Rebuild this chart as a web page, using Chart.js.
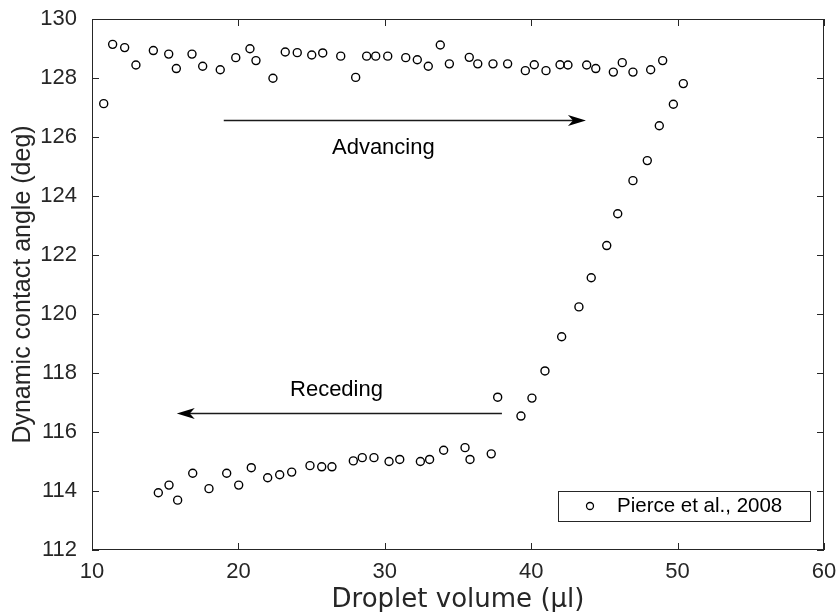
<!DOCTYPE html>
<html>
<head>
<meta charset="utf-8">
<script src="https://cdn.jsdelivr.net/npm/chart.js@4.4.1/dist/chart.umd.min.js"></script>
<style>
  html, body { margin: 0; padding: 0; background: #fff; }
</style>
</head>
<body>
<canvas id="angle-chart" width="837" height="612"></canvas>
<script>
// Droplet volume (ul) - advancing branch, the rise, then the receding branch
var volume = [10.80, 11.41, 12.23, 13.00, 14.19, 15.24, 15.76, 16.83, 17.56, 18.76,
              19.82, 20.79, 21.20, 22.36, 23.20, 24.02, 25.01, 25.76, 26.99, 28.01,
              28.76, 29.38, 30.20, 31.43, 32.22, 32.97, 33.79, 34.41, 35.77, 36.35,
              37.39, 38.39, 39.60, 40.21, 41.01, 41.97, 42.51, 43.79, 44.41, 45.61,
              46.22, 46.95, 48.16, 48.98, 50.39,
              49.71, 48.75, 47.93, 46.95, 45.91, 45.16, 44.10, 43.26, 42.08, 40.94,
              40.05, 39.30, 37.71,
              37.27, 35.82, 35.48, 34.02, 33.06, 32.43, 31.02, 30.29, 29.26, 28.46,
              27.85, 26.39, 25.69, 24.89, 23.64, 22.82, 22.00, 20.88, 20.02, 19.20,
              17.99, 16.88, 15.85, 15.26, 14.53];

// Dynamic contact angle (deg), same order
var angle = [127.13, 129.14, 129.03, 128.44, 128.93, 128.81, 128.32, 128.81, 128.40, 128.28,
             128.69, 128.99, 128.59, 127.99, 128.88, 128.86, 128.78, 128.85, 128.74, 128.02,
             128.74, 128.74, 128.74, 128.69, 128.62, 128.40, 129.12, 128.48, 128.70, 128.48,
             128.48, 128.48, 128.25, 128.45, 128.25, 128.45, 128.44, 128.44, 128.32, 128.20,
             128.52, 128.20, 128.28, 128.59, 127.81,
             127.11, 126.38, 125.20, 124.52, 123.40, 122.32, 121.23, 120.24, 119.23, 118.07,
             117.15, 116.54, 117.18,
             115.26, 115.07, 115.47, 115.38, 115.07, 115.00, 115.07, 115.00, 115.13, 115.13,
             115.02, 114.82, 114.82, 114.86, 114.64, 114.55, 114.45, 114.79, 114.20, 114.60,
             114.08, 114.60, 113.69, 114.20, 113.94];

var xTicks = [10, 20, 30, 40, 50, 60];
var yTicks = [112, 114, 116, 118, 120, 122, 124, 126, 128, 130];

// arrows and their captions, in data units
var arrowFromX = [19.0, 38.0];
var arrowToX = [43.74, 15.79];
var arrowY = [126.58, 116.64];
var noteText = ['Advancing', 'Receding'];
var noteX = [29.9, 26.7];
var noteY = [125.63, 117.42];

var ink = '#262626';

var points = volume.map(function (v, i) { return { x: v, y: angle[i] }; });

// box, inward ticks, arrows, captions and legend (MATLAB look)
var extras = {
    id: 'extras',
    afterDatasetsDraw: function (chart) {
        var ctx = chart.ctx, a = chart.chartArea;
        var xs = chart.scales.x, ys = chart.scales.y;
        ctx.save();
        ctx.strokeStyle = ink;
        ctx.lineWidth = 1;
        ctx.strokeRect(a.left + 0.5, a.top + 0.5, a.right - a.left - 1, a.bottom - a.top - 1);
        ctx.beginPath();
        xTicks.forEach(function (v) {
            var px = Math.round(xs.getPixelForValue(v)) + 0.5;
            ctx.moveTo(px, a.bottom); ctx.lineTo(px, a.bottom - 7);
            ctx.moveTo(px, a.top); ctx.lineTo(px, a.top + 7);
        });
        yTicks.forEach(function (v) {
            var py = Math.round(ys.getPixelForValue(v)) + 0.5;
            ctx.moveTo(a.left, py); ctx.lineTo(a.left + 7, py);
            ctx.moveTo(a.right, py); ctx.lineTo(a.right - 7, py);
        });
        ctx.stroke();

        // arrows
        for (var i = 0; i < arrowY.length; i++) {
            var x1 = xs.getPixelForValue(arrowFromX[i]);
            var x2 = xs.getPixelForValue(arrowToX[i]);
            var y = Math.round(ys.getPixelForValue(arrowY[i])) + 0.5;
            var dir = x2 > x1 ? 1 : -1;
            ctx.strokeStyle = '#1a1a1a';
            ctx.lineWidth = 1.3;
            ctx.beginPath();
            ctx.moveTo(x1, y); ctx.lineTo(x2 - dir * 10, y);
            ctx.stroke();
            ctx.fillStyle = '#000';
            ctx.beginPath();
            ctx.moveTo(x2, y);
            ctx.lineTo(x2 - dir * 18, y - 5.5);
            ctx.lineTo(x2 - dir * 13, y);
            ctx.lineTo(x2 - dir * 18, y + 5.5);
            ctx.closePath();
            ctx.fill();
        }

        // captions
        ctx.fillStyle = '#000';
        ctx.font = '22px "Liberation Sans", Arial, sans-serif';
        ctx.textAlign = 'center';
        ctx.textBaseline = 'middle';
        for (var j = 0; j < noteText.length; j++) {
            ctx.fillText(noteText[j], xs.getPixelForValue(noteX[j]), ys.getPixelForValue(noteY[j]));
        }

        // legend box in the lower right corner
        var bw = 252, bh = 30;
        var bx = a.right - 14 - bw, by = a.bottom - 29 - bh;
        ctx.fillStyle = '#fff';
        ctx.fillRect(bx, by, bw, bh);
        ctx.strokeStyle = ink;
        ctx.lineWidth = 1;
        ctx.strokeRect(bx + 0.5, by + 0.5, bw, bh);
        ctx.strokeStyle = '#000';
        ctx.lineWidth = 1.3;
        ctx.beginPath();
        ctx.arc(bx + 32, by + 15, 3.5, 0, Math.PI * 2);
        ctx.stroke();
        ctx.fillStyle = '#000';
        ctx.font = '20.5px "Liberation Sans", Arial, sans-serif';
        ctx.textAlign = 'left';
        ctx.fillText(chart.data.datasets[0].label, bx + 59, by + 15.5);
        ctx.restore();
    }
};

var ctx = document.getElementById('angle-chart').getContext('2d');

var angleChart = new Chart(ctx, {
    type: 'scatter',
    data: {
        datasets: [{
            label: 'Pierce et al., 2008',
            data: points,
            pointStyle: 'circle',
            pointRadius: 4,
            borderWidth: 1.4,
            borderColor: '#000',
            backgroundColor: 'rgba(0,0,0,0)',
            showLine: false
        }]
    },
    options: {
        responsive: false,
        animation: false,
        layout: { autoPadding: false, padding: { top: 19, right: 13, left: 0, bottom: 0 } },
        plugins: {
            legend: { display: false },
            tooltip: { enabled: false }
        },
        scales: {
            x: {
                type: 'linear',
                min: 10,
                max: 60,
                afterBuildTicks: function (s) { s.ticks = xTicks.map(function (v) { return { value: v }; }); },
                afterFit: function (s) { s.height = 62; s.paddingLeft = 0; s.paddingRight = 0; },
                grid: { display: false, drawTicks: false },
                border: { display: false },
                ticks: {
                    color: ink,
                    padding: 9,
                    maxRotation: 0,
                    font: { family: '"Liberation Sans", Arial, sans-serif', size: 22 }
                },
                title: {
                    display: true,
                    text: 'Droplet volume (\u00b5l)',
                    color: ink,
                    padding: { top: 0, bottom: -1 },
                    font: { family: '"DejaVu Sans", sans-serif', size: 26, lineHeight: 1.0 }
                }
            },
            y: {
                type: 'linear',
                min: 112,
                max: 130,
                afterBuildTicks: function (s) { s.ticks = yTicks.map(function (v) { return { value: v }; }); },
                afterFit: function (s) { s.width = 92; s.paddingTop = 0; s.paddingBottom = 0; },
                grid: { display: false, drawTicks: false },
                border: { display: false },
                ticks: {
                    color: ink,
                    padding: 15,
                    font: { family: '"Liberation Sans", Arial, sans-serif', size: 22 }
                },
                title: {
                    display: true,
                    text: 'Dynamic contact angle (deg)',
                    color: ink,
                    padding: { top: 8, bottom: 0 },
                    font: { family: '"Liberation Sans", Arial, sans-serif', size: 25 }
                }
            }
        }
    },
    plugins: [extras]
});
</script>
</body>
</html>
